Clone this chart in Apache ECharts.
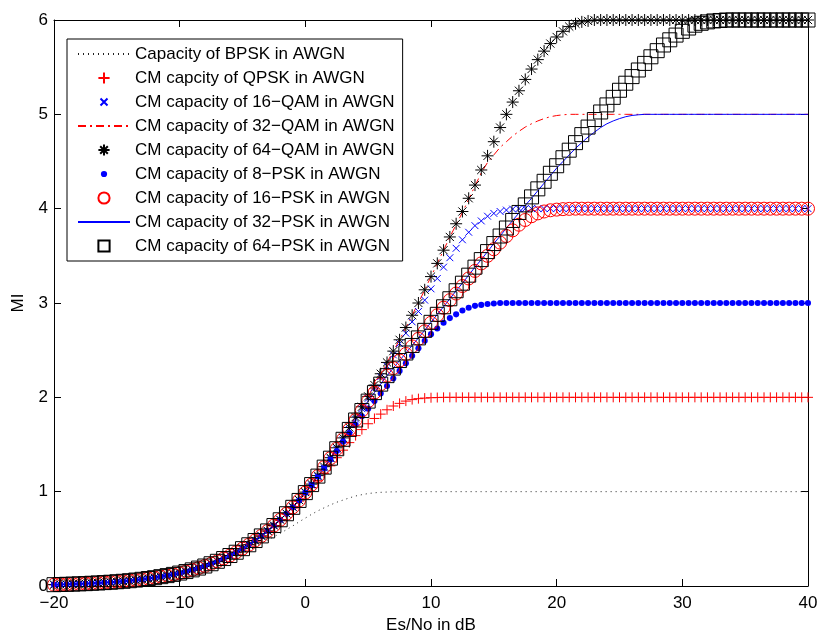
<!DOCTYPE html>
<html>
<head>
<meta charset="utf-8">
<script src="https://cdn.jsdelivr.net/npm/echarts@6/dist/echarts.min.js"></script>
<style>
html,body{margin:0;padding:0;background:#fff;}
#chart{width:820px;height:634px;}
</style>
</head>
<body>
<div id="chart"></div>
<script>
// Es/No in dB (0.5 dB steps)
const esNo = [-20,-19.5,-19,-18.5,-18,-17.5,-17,-16.5,-16,-15.5,-15,-14.5,-14,-13.5,-13,-12.5,-12,-11.5,-11,-10.5,
-10,-9.5,-9,-8.5,-8,-7.5,-7,-6.5,-6,-5.5,-5,-4.5,-4,-3.5,-3,-2.5,-2,-1.5,-1,-0.5,
0,0.5,1,1.5,2,2.5,3,3.5,4,4.5,5,5.5,6,6.5,7,7.5,8,8.5,9,9.5,
10,10.5,11,11.5,12,12.5,13,13.5,14,14.5,15,15.5,16,16.5,17,17.5,18,18.5,19,19.5,
20,20.5,21,21.5,22,22.5,23,23.5,24,24.5,25,25.5,26,26.5,27,27.5,28,28.5,29,29.5,
30,30.5,31,31.5,32,32.5,33,33.5,34,34.5,35,35.5,36,36.5,37,37.5,38,38.5,39,39.5,40];

const bpsk = [0.014,0.016,0.018,0.020,0.022,0.025,0.028,0.031,0.035,0.039,0.044,0.049,0.055,0.061,0.068,0.076,0.085,0.095,0.106,0.118,
0.131,0.146,0.162,0.180,0.199,0.219,0.240,0.263,0.288,0.318,0.347,0.380,0.413,0.450,0.487,0.522,0.558,0.597,0.637,0.680,
0.720,0.760,0.797,0.829,0.860,0.888,0.911,0.934,0.954,0.968,0.980,0.988,0.993,0.996,0.998,0.999,1,
1,1,1,1,1,1,1,1,
1,1,1,1,1,1,1,1,
1,1,1,1,1,1,1,1,
1,1,1,1,1,1,1,1,
1,1,1,1,1,1,1,1,
1,1,1,1,1,1,1,1,
1,1,1,1,1,1,1,1,
1,1,1,1,1,1,1,1];

const qpsk = [0.014,0.016,0.018,0.020,0.023,0.025,0.029,0.032,0.036,0.040,0.045,0.050,0.056,0.063,0.071,0.079,0.088,0.099,0.110,0.123,
0.136,0.152,0.170,0.190,0.212,0.236,0.262,0.292,0.324,0.360,0.398,0.438,0.480,0.526,0.576,0.636,0.694,0.760,0.826,0.900,
0.974,1.044,1.116,1.194,1.274,1.360,1.440,1.520,1.594,1.658,1.720,1.776,1.822,1.868,1.908,1.936,1.960,1.976,1.986,1.992,1.996,
1.998,
2,2,2,2,2,2,2,2,2,2,
2,2,2,2,2,2,2,2,2,2,
2,2,2,2,2,2,2,2,2,2,
2,2,2,2,2,2,2,2,2,2,
2,2,2,2,2,2,2,2,2,2,
2,2,2,2,2,2,2,2,2];

const qam16 = [0.014,0.016,0.018,0.020,0.023,0.025,0.029,0.032,0.036,0.040,0.045,0.050,0.056,0.063,0.071,0.079,0.088,0.099,0.110,0.123,
0.137,0.153,0.171,0.190,0.212,0.236,0.262,0.291,0.323,0.358,0.396,0.437,0.482,0.531,0.584,0.641,0.702,0.767,0.836,0.910,
0.99,1.07,1.16,1.25,1.35,1.45,1.55,1.66,1.77,1.88,1.99,2.10,2.22,2.33,2.45,2.57,2.68,2.80,2.91,3.03,
3.15,3.26,3.38,3.48,3.58,3.67,3.75,3.82,3.87,3.92,3.95,3.97,3.985,3.995,4,
4,4,4,4,4,4,4,4,4,4,
4,4,4,4,4,4,4,4,4,4,
4,4,4,4,4,4,4,4,4,4,
4,4,4,4,4,4,4,4,4,4,
4,4,4,4,4,4];

const qam32 = [0.014,0.016,0.018,0.020,0.023,0.025,0.029,0.032,0.036,0.040,0.045,0.050,0.056,0.063,0.071,0.079,0.088,0.099,0.110,0.123,
0.137,0.153,0.171,0.190,0.212,0.236,0.262,0.291,0.323,0.358,0.396,0.437,0.482,0.531,0.584,0.641,0.703,0.768,0.838,0.912,
0.995,1.08,1.17,1.265,1.36,1.465,1.57,1.68,1.79,1.90,2.01,2.13,2.25,2.37,2.49,2.61,2.74,2.87,3.00,3.14,
3.28,3.42,3.56,3.70,3.83,3.96,4.10,
4.24,4.38,4.49,4.57,4.65,4.71,4.77,4.82,4.865,4.90,4.93,4.955,4.975,4.987,4.995,5,
5,5,5,5,5,5,5,5,5,5,
5,5,5,5,5,5,5,5,5,5,
5,5,5,5,5,5,5,5,5,5,
5,5,5,5,5,5,5,5];

const qam64 = [0.014,0.016,0.018,0.020,0.023,0.025,0.029,0.032,0.036,0.040,0.045,0.050,0.056,0.063,0.071,0.079,0.088,0.099,0.110,0.123,
0.137,0.153,0.171,0.190,0.212,0.236,0.262,0.291,0.323,0.358,0.396,0.437,0.482,0.531,0.584,0.641,0.703,0.768,0.838,0.912,
0.995,1.08,1.17,1.265,1.36,1.465,1.57,1.68,1.79,1.90,2.01,2.13,2.25,2.37,2.49,2.61,2.74,2.87,3.00,3.14,
3.28,3.42,3.56,3.70,3.84,3.97,4.11,
4.25,4.41,4.56,4.71,4.86,5.00,5.13,5.25,5.37,5.48,5.58,5.67,5.75,5.82,5.88,5.93,5.96,5.98,5.99,
6,6,6,6,6,6,6,6,6,6,
6,6,6,6,6,6,6,6,6,6,
6,6,6,6,6,6,6,6,6,6,
6,6,6,6,6];

const psk8 = [0.014,0.016,0.018,0.020,0.023,0.025,0.029,0.032,0.036,0.040,0.045,0.050,0.056,0.063,0.071,0.079,0.088,0.099,0.110,0.123,
0.137,0.153,0.171,0.190,0.212,0.236,0.262,0.291,0.323,0.358,0.396,0.437,0.482,0.531,0.584,0.641,0.702,0.766,0.834,0.907,
0.99,1.07,1.16,1.25,1.34,1.43,1.53,1.62,1.71,1.80,1.88,1.96,2.04,2.12,2.20,2.28,2.36,2.44,2.52,2.60,
2.67,2.73,2.79,2.84,2.88,2.92,2.95,2.97,2.98,2.99,2.995,
3,3,3,3,3,3,3,3,3,3,
3,3,3,3,3,3,3,3,3,3,
3,3,3,3,3,3,3,3,3,3,
3,3,3,3,3,3,3,3,3,3,
3,3,3,3,3,3,3,3,3,3];

const psk16 = [0.014,0.016,0.018,0.020,0.023,0.025,0.029,0.032,0.036,0.040,0.045,0.050,0.056,0.063,0.071,0.079,0.088,0.099,0.110,0.123,
0.137,0.153,0.171,0.190,0.212,0.236,0.262,0.291,0.323,0.358,0.396,0.437,0.482,0.531,0.584,0.641,0.702,0.766,0.834,0.907,
0.99,1.075,1.165,1.26,1.355,1.455,1.555,1.66,1.76,1.86,1.96,2.05,2.14,2.23,2.31,2.39,2.46,2.54,2.62,
2.70,2.79,2.87,2.95,3.03,3.10,3.18,3.26,3.34,3.42,3.50,3.57,3.64,3.71,3.77,3.83,3.88,3.92,3.95,3.97,3.983,3.99,3.995,3.998,4,
4,4,4,4,4,4,4,4,4,4,
4,4,4,4,4,4,4,4,4,4,
4,4,4,4,4,4,4,4,4,4,
4,4,4,4,4,4,4];

const psk32 = [0.014,0.016,0.018,0.020,0.023,0.025,0.029,0.032,0.036,0.040,0.045,0.050,0.056,0.063,0.071,0.079,0.088,0.099,0.110,0.123,
0.137,0.153,0.171,0.190,0.212,0.236,0.262,0.291,0.323,0.358,0.396,0.437,0.482,0.531,0.584,0.641,0.702,0.766,0.834,0.907,
0.99,1.075,1.165,1.26,1.355,1.455,1.555,1.66,1.76,1.86,1.96,2.05,2.14,2.23,2.31,2.39,2.47,2.55,2.63,2.71,
2.795,2.88,2.96,3.045,3.13,3.21,3.295,3.38,3.46,3.545,3.63,3.71,3.795,3.875,3.955,4.035,
4.11,4.19,4.27,4.35,4.43,4.50,4.57,4.64,4.70,4.76,4.81,4.86,4.90,4.93,4.955,4.975,4.988,4.995,5,
5,5,5,5,5,5,5,5,5,5,
5,5,5,5,5,5,5,5,5,5,
5,5,5,5,5,5];

const psk64 = [0.014,0.016,0.018,0.020,0.023,0.025,0.029,0.032,0.036,0.040,0.045,0.050,0.056,0.063,0.071,0.079,0.088,0.099,0.110,0.123,
0.137,0.153,0.171,0.190,0.212,0.236,0.262,0.291,0.323,0.358,0.396,0.437,0.482,0.531,0.584,0.641,0.702,0.766,0.834,0.907,
0.99,1.075,1.165,1.26,1.355,1.455,1.555,1.66,1.76,1.86,
1.96,2.05,2.14,2.23,2.31,2.39,2.47,2.55,2.63,2.71,
2.795,2.88,2.96,3.045,3.13,3.21,3.295,3.38,3.46,3.545,
3.63,3.71,3.795,3.875,3.96,4.04,4.125,4.21,4.29,4.375,
4.455,4.54,4.62,4.70,4.785,4.865,4.945,5.025,5.10,5.18,
5.255,5.33,5.40,5.47,5.54,5.61,5.675,5.735,5.79,5.84,
5.88,5.915,5.945,5.965,5.98,5.99,5.995,
6,6,6,6,6,6,6,6,6,6,
6,6,6,6];

const seriesNames = [
  'Capacity of BPSK in AWGN',
  'CM capcity of QPSK in AWGN',
  'CM capacity of 16\u2212QAM in AWGN',
  'CM capacity of 32\u2212QAM in AWGN',
  'CM capacity of 64\u2212QAM in AWGN',
  'CM capacity of 8\u2212PSK in AWGN',
  'CM capacity of 16\u2212PSK in AWGN',
  'CM capacity of 32\u2212PSK in AWGN',
  'CM capacity of 64\u2212PSK in AWGN'
];
const xTicks = {min: -20, max: 40, step: 10};
const yTicks = {min: 0, max: 6, step: 1};

const allY = [bpsk, qpsk, qam16, qam32, qam64, psk8, psk16, psk32, psk64];
allY.forEach((a, k) => { if (a.length !== esNo.length) throw new Error('length mismatch in series ' + k + ': ' + a.length); });

const pairs = ys => esNo.map((x, i) => [x, ys[i]]);
const FONT = 'Liberation Sans';
const RED = '#ff0000', BLUE = '#0000ff', BLACK = '#000000';

// marker glyphs (MATLAB style); padded boxes keep legend glyphs small
const PLUS = 'path://M5,0 L5,10 M0,5 L10,5';
const CROSS = 'path://M-3,-3 M13,13 M0,0 L10,10 M0,10 L10,0';
const STAR = 'path://M5,0 L5,10 M0,5 L10,5 M1.6,1.6 L8.4,8.4 M1.6,8.4 L8.4,1.6';
const DOT = 'path://M-4,-4 M14,14 M0,5 A5,5 0 1 1 10,5 A5,5 0 1 1 0,5 Z';

const hidden = {width: 0, opacity: 0};
function markerSeries(name, ys, symbol, size, itemStyle) {
  return {name, type: 'line', data: pairs(ys), symbol, symbolSize: size, showSymbol: true,
    lineStyle: hidden, itemStyle, emphasis: {disabled: true}, silent: true, animation: false};
}
function lineSeries(name, ys, lineStyle) {
  return {name, type: 'line', data: pairs(ys), symbol: 'none', showSymbol: false,
    lineStyle, itemStyle: {color: lineStyle.color}, emphasis: {disabled: true}, silent: true, animation: false};
}

const series = [
  lineSeries(seriesNames[0], bpsk, {color: '#222', width: 1, type: [1, 4]}),
  markerSeries(seriesNames[1], qpsk, PLUS, 10, {color: 'none', borderColor: RED, borderWidth: 1}),
  markerSeries(seriesNames[2], qam16, CROSS, 11, {color: 'none', borderColor: BLUE, borderWidth: 1}),
  lineSeries(seriesNames[3], qam32, {color: RED, width: 1, type: [8, 4, 2, 4]}),
  markerSeries(seriesNames[4], qam64, STAR, 12, {color: 'none', borderColor: BLACK, borderWidth: 1}),
  markerSeries(seriesNames[5], psk8, DOT, 11, {color: BLUE, borderWidth: 0}),
  markerSeries(seriesNames[6], psk16, 'circle', 13, {color: 'none', borderColor: RED, borderWidth: 1}),
  lineSeries(seriesNames[7], psk32, {color: BLUE, width: 1, type: 'solid'}),
  markerSeries(seriesNames[8], psk64, 'rect', 14, {color: 'none', borderColor: BLACK, borderWidth: 1})
];

const lineOnly = new Set([0, 3, 7]);
const legendData = seriesNames.map((n, i) => lineOnly.has(i) ? {name: n, itemStyle: {opacity: 0}} : {name: n});

const fmt = v => (v < 0 ? '\u2212' + (-v) : String(v));
const axisBase = {
  axisLine: {show: true, onZero: false, lineStyle: {color: BLACK, width: 1}},
  axisTick: {show: true, inside: true, length: 7, lineStyle: {color: BLACK, width: 1}},
  splitLine: {show: false}
};

const chart = echarts.init(document.getElementById('chart'), null, {renderer: 'canvas'});
chart.setOption({
  animation: false,
  backgroundColor: '#fff',
  textStyle: {fontFamily: FONT},
  grid: {left: 54, right: 12, top: 20, bottom: 48, containLabel: false, outerBoundsMode: 'none'},
  legend: {
    orient: 'vertical', left: 67, top: 39,
    padding: [3, 8, 3, 10], itemWidth: 52, itemHeight: 14, itemGap: 0,
    backgroundColor: '#fff', borderColor: BLACK, borderWidth: 1,
    selectedMode: false,
    textStyle: {fontSize: 17, fontFamily: FONT, color: BLACK, lineHeight: 24},
    data: legendData
  },
  xAxis: [
    Object.assign({type: 'value', position: 'bottom', min: xTicks.min, max: xTicks.max, interval: xTicks.step,
      name: 'Es/No in dB', nameLocation: 'middle', nameGap: 24,
      nameTextStyle: {fontSize: 17, color: BLACK, fontFamily: FONT},
      axisLabel: {show: true, color: BLACK, fontSize: 17, fontFamily: FONT, margin: 9, formatter: fmt}}, axisBase),
    Object.assign({type: 'value', position: 'top', min: xTicks.min, max: xTicks.max, interval: xTicks.step,
      axisLabel: {show: false}}, axisBase)
  ],
  yAxis: [
    Object.assign({type: 'value', position: 'left', min: yTicks.min, max: yTicks.max, interval: yTicks.step,
      name: 'MI', nameLocation: 'middle', nameGap: 27,
      nameTextStyle: {fontSize: 17, color: BLACK, fontFamily: FONT},
      axisLabel: {show: true, color: BLACK, fontSize: 17, fontFamily: FONT, margin: 6, formatter: fmt}}, axisBase),
    Object.assign({type: 'value', position: 'right', min: yTicks.min, max: yTicks.max, interval: yTicks.step,
      axisLabel: {show: false}}, axisBase)
  ],
  series: series
});
</script>
</body>
</html>
